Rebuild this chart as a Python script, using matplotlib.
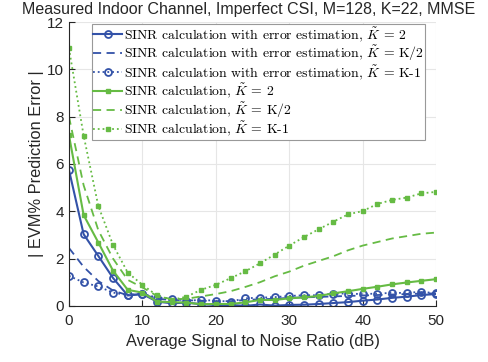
import matplotlib
matplotlib.use("Agg")
import matplotlib.pyplot as plt
import numpy as np

plt.rcParams['font.family'] = ['Liberation Sans', 'DejaVu Sans']
plt.rcParams['mathtext.fontset'] = 'cm'

snr = list(range(0, 51, 2))

blue_solid = [5.75, 3.03, 2.11, 1.18, 0.44, 0.50, 0.18, 0.11, 0.14, 0.07, 0.04, 0.04, 0.0,
              0.06, 0.01, 0.04, 0.05, 0.08, 0.12, 0.16, 0.22, 0.27, 0.34, 0.39, 0.46, 0.50]
blue_dashed = [2.45, 1.65, 1.05, 0.65, 0.45, 0.50, 0.30, 0.25, 0.24, 0.22, 0.20, 0.20, 0.25,
               0.28, 0.30, 0.34, 0.36, 0.38, 0.40, 0.42, 0.44, 0.46, 0.48, 0.50, 0.52, 0.53]
blue_dotted = [1.27, 0.99, 0.82, 0.56, 0.46, 0.52, 0.35, 0.31, 0.22, 0.25, 0.22, 0.18, 0.32,
               0.35, 0.37, 0.42, 0.45, 0.45, 0.52, 0.52, 0.50, 0.52, 0.55, 0.55, 0.60, 0.53]
green_solid = [7.22, 3.84, 2.68, 1.49, 0.68, 0.56, 0.18, 0.16, 0.14, 0.07, 0.08, 0.08, 0.15,
               0.25, 0.25, 0.32, 0.36, 0.42, 0.53, 0.62, 0.72, 0.81, 0.91, 0.99, 1.06, 1.13]
green_dashed = [8.0, 5.1, 3.2, 2.0, 1.1, 0.78, 0.42, 0.28, 0.30, 0.40, 0.50, 0.62, 0.80,
                1.0, 1.25, 1.45, 1.70, 1.90, 2.10, 2.35, 2.55, 2.70, 2.85, 2.95, 3.05, 3.10]
green_dotted = [10.89, 7.2, 4.22, 2.58, 1.41, 0.89, 0.44, 0.25, 0.39, 0.68, 0.89, 1.17, 1.46,
                1.80, 2.17, 2.55, 2.91, 3.24, 3.56, 3.87, 4.01, 4.31, 4.48, 4.58, 4.76, 4.82]

labels = [
    r"SINR calculation with error estimation, $\tilde{K}$ = 2",
    r"SINR calculation with error estimation, $\tilde{K}$ = K/2",
    r"SINR calculation with error estimation, $\tilde{K}$ = K-1",
    r"SINR calculation, $\tilde{K}$ = 2",
    r"SINR calculation, $\tilde{K}$ = K/2",
    r"SINR calculation, $\tilde{K}$ = K-1",
]

blue = '#3352A8'
green = '#66BB44'
dash = (0, (4.5, 3))

fig = plt.figure(figsize=(4.89, 3.62), dpi=100)
ax = fig.add_axes([0.141, 0.155, 0.751, 0.784])

ax.plot(snr, blue_solid, '-', color=blue, lw=1.5, marker='o', ms=5, mfc='none', mew=1.3, label=labels[0])
ax.plot(snr, blue_dashed, linestyle=dash, color=blue, lw=1.3, label=labels[1])
ax.plot(snr, blue_dotted, ':', color=blue, lw=1.3, marker='o', ms=5, mfc='none', mew=1.3, label=labels[2])
ax.plot(snr, green_solid, '-', color=green, lw=1.5, marker='s', ms=2.8, label=labels[3])
ax.plot(snr, green_dashed, linestyle=dash, color=green, lw=1.3, label=labels[4])
ax.plot(snr, green_dotted, ':', color=green, lw=1.3, marker='s', ms=2.8, label=labels[5])

ax.set_xlim(0, 50)
ax.set_ylim(0, 12)
ax.set_xticks(range(0, 51, 10))
ax.set_yticks(range(0, 13, 2))
ax.grid(True, color='#e6e6e6', lw=0.8)
ax.set_axisbelow(True)
for s in ['top', 'right']:
    ax.spines[s].set_visible(False)
for s in ['left', 'bottom']:
    ax.spines[s].set_color('#262626')
ax.tick_params(direction='in', length=4, labelsize=11, colors='#262626')
ax.tick_params(axis='x', pad=6)

ax.set_xlabel('Average Signal to Noise Ratio (dB)', fontsize=11.8, color='#262626', labelpad=4)
ax.set_ylabel('| EVM% Prediction Error |', fontsize=11.8, color='#262626', labelpad=2)
fig.text(0.509, 0.975, 'Measured Indoor Channel, Imperfect CSI, M=128, K=22, MMSE',
         fontsize=11.5, color='#262626', ha='center', va='center')

leg = ax.legend(loc='upper left', bbox_to_anchor=(0.062, 0.995), fancybox=False,
                prop={'family': 'cmr10', 'size': 9.9}, handlelength=2.1, handletextpad=0.1,
                labelspacing=0.0, borderpad=0.12, borderaxespad=0, framealpha=1,
                edgecolor='#999999')
leg.get_frame().set_linewidth(0.8)

fig.savefig('out.png', dpi=100)
